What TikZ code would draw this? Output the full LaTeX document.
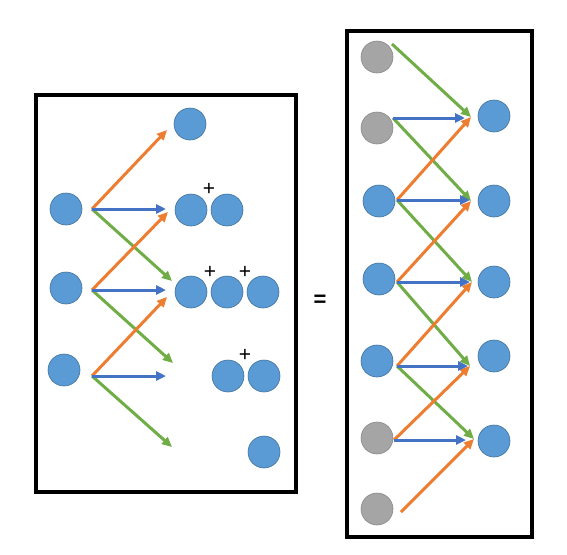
\documentclass[tikz,border=0pt]{standalone}
\usepackage{fontspec}
\setsansfont{Liberation Sans}
\usetikzlibrary{arrows.meta}
\definecolor{cblue}{HTML}{5B9BD5}
\definecolor{cblueb}{HTML}{41719C}
\definecolor{cgray}{HTML}{A5A5A5}
\definecolor{cgrayb}{HTML}{8A8A8A}
\definecolor{aorange}{HTML}{ED7D31}
\definecolor{agreen}{HTML}{70AD47}
\definecolor{ablue}{HTML}{4472C4}
\tikzset{
  bc/.style={circle,fill=cblue,draw=cblueb,line width=0.6pt,minimum size=32pt,inner sep=0pt},
  gc/.style={circle,fill=cgray,draw=cgrayb,line width=0.6pt,minimum size=32pt,inner sep=0pt},
  arr/.style={line width=3pt,-{Triangle[length=10pt,width=9pt]}},
  ao/.style={arr,draw=aorange,fill=aorange},
  ag/.style={arr,draw=agreen,fill=agreen},
  ab/.style={arr,draw=ablue,fill=ablue},
  frame/.style={draw=black,line width=3.5pt},
  plus/.style={font=\sffamily\fontsize{21}{21}\selectfont,inner sep=0pt}
}
\begin{document}
\begin{tikzpicture}[x=1pt,y=-1pt]
\useasboundingbox (0,0) rectangle (567,554);
% left box
\node[frame,minimum width=260pt,minimum height=397pt,inner sep=0pt] (lbox) at (166,293.5) {};
\node[bc] (l1) at (66,209) {};
\node[bc] (l2) at (66,288) {};
\node[bc] (l3) at (64,370) {};
\node[bc] (r0) at (190,124) {};
\node[bc] (r1a) at (191,210) {};
\node[bc] (r1b) at (227,210) {};
\node[bc] (r2a) at (191,292) {};
\node[bc] (r2b) at (227,292) {};
\node[bc] (r2c) at (263,292) {};
\node[bc] (r3a) at (228,376) {};
\node[bc] (r3b) at (264,376) {};
\node[bc] (r4) at (264,452) {};
\node[plus] (p1) at (209,189) {+};
\node[plus] (p2) at (210,272) {+};
\node[plus] (p3) at (245,272) {+};
\node[plus] (p4) at (245,355) {+};
\coordinate (s1) at (92,209);
\coordinate (s2) at (92,290);
\coordinate (s3) at (92,376);
\coordinate (t1o) at (167,130);
\coordinate (t1b) at (166,209);
\coordinate (t1g) at (172,281);
\coordinate (t2o) at (168,212);
\coordinate (t2b) at (166,290);
\coordinate (t2g) at (173,363);
\coordinate (t3o) at (167,297);
\coordinate (t3b) at (166,376);
\coordinate (t3g) at (172,447);
\draw[ag] (s1) -- (t1g);
\draw[ag] (s2) -- (t2g);
\draw[ag] (s3) -- (t3g);
\draw[ao] (s1) -- (t1o);
\draw[ao] (s2) -- (t2o);
\draw[ao] (s3) -- (t3o);
\draw[ab] (s1) -- (t1b);
\draw[ab] (s2) -- (t2b);
\draw[ab] (s3) -- (t3b);
% equals
\node[font=\sffamily\bfseries\fontsize{22}{22}\selectfont] (eq) at (320,301) {=};
% right box
\node[frame,minimum width=185pt,minimum height=506pt,inner sep=0pt] (rbox) at (439.5,284) {};
\node[gc] (a1) at (377,57) {};
\node[gc] (a2) at (377,128) {};
\node[bc] (a3) at (379,201) {};
\node[bc] (a4) at (379,279) {};
\node[bc] (a5) at (377,361) {};
\node[gc] (a6) at (377,438) {};
\node[gc] (a7) at (377,509) {};
\node[bc] (b1) at (494,116) {};
\node[bc] (b2) at (494,201) {};
\node[bc] (b3) at (494,282) {};
\node[bc] (b4) at (494,356) {};
\node[bc] (b5) at (494,441) {};
\coordinate (u1) at (392,44);
\coordinate (u2) at (393,118);
\coordinate (u3) at (397,200);
\coordinate (u4) at (397,282);
\coordinate (u5) at (397,366);
\coordinate (u6) at (394,440);
\coordinate (u7) at (401,512);
\coordinate (v1) at (471,117);
\coordinate (v2) at (471,201);
\coordinate (v3) at (472,282);
\coordinate (v4) at (470,366);
\coordinate (v5) at (474,439);
\coordinate (w2) at (465,118);
\coordinate (w3) at (470,200);
\coordinate (w4) at (470,282);
\coordinate (w5) at (468,366);
\coordinate (w6) at (466,440);
\draw[ag] (u1) -- (v1);
\draw[ag] (u2) -- (v2);
\draw[ag] (u3) -- (v3);
\draw[ag] (u4) -- (v4);
\draw[ag] (u5) -- (v5);
\draw[ao] (u3) -- (v1);
\draw[ao] (u4) -- (v2);
\draw[ao] (u5) -- (v3);
\draw[ao] (u6) -- (v4);
\draw[ao] (u7) -- (v5);
\draw[ab] (u2) -- (w2);
\draw[ab] (u3) -- (w3);
\draw[ab] (u4) -- (w4);
\draw[ab] (u5) -- (w5);
\draw[ab] (u6) -- (w6);
\end{tikzpicture}
\end{document}
